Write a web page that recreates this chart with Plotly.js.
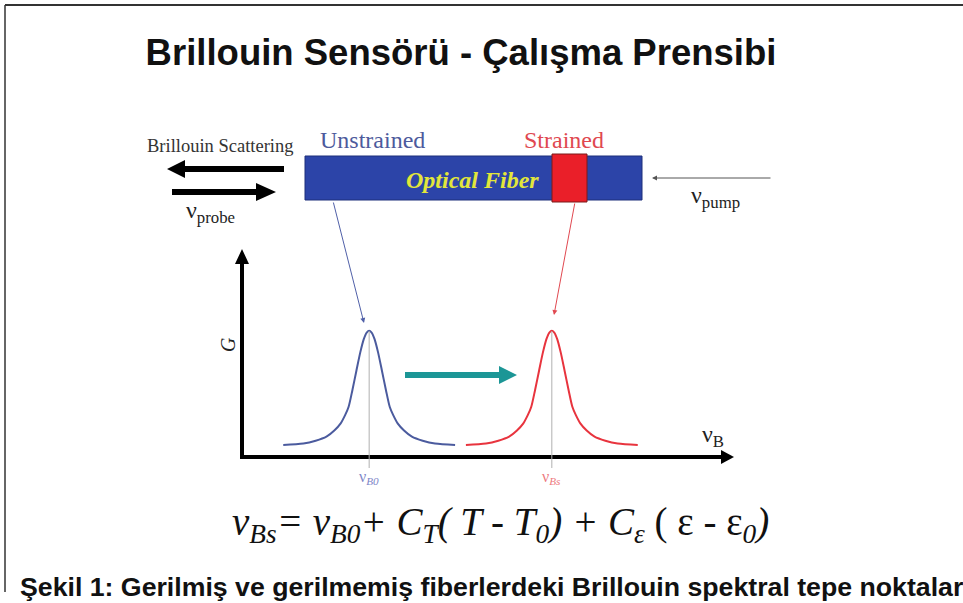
<!DOCTYPE html>
<html>
<head>
<meta charset="utf-8">
<script src="https://cdn.plot.ly/plotly-3.0.1.min.js"></script>
<style>
html,body{margin:0;padding:0;background:#fff;}
#chart{width:963px;height:603px;}
</style>
</head>
<body>
<div id="chart"></div>
<script>
// Spectral data (νB in arbitrary units 0..100, G in arbitrary units 0..1)
const nuB_unstrained = [8.4,12.5,15.0,17.2,18.8,20.1,21.0,21.7,22.5,23.3,24.1,24.8,25.4,25.9,26.4,27.0,27.7,28.5,29.3,30.1,30.8,31.7,33.0,34.6,36.8,39.3,43.4];
const G_unstrained   = [0.059,0.066,0.080,0.100,0.130,0.165,0.205,0.245,0.330,0.423,0.514,0.578,0.610,0.619,0.610,0.578,0.514,0.423,0.330,0.245,0.205,0.165,0.130,0.100,0.080,0.066,0.059];
const nuB_strained   = [45.6,49.7,52.2,54.4,56.0,57.3,58.2,58.9,59.7,60.5,61.3,62.0,62.6,63.1,63.6,64.2,64.9,65.7,66.5,67.3,68.0,68.9,70.2,71.8,74.0,76.5,80.6];
const G_strained     = [0.059,0.066,0.080,0.100,0.130,0.165,0.205,0.245,0.330,0.423,0.514,0.578,0.610,0.619,0.610,0.578,0.514,0.423,0.330,0.245,0.205,0.165,0.130,0.100,0.080,0.066,0.059];
const peakNu = [25.9, 63.1];           // νB0, νBs
const peakLabels = ['ν<sub><i>B0</i></sub>', 'ν<sub><i>Bs</i></sub>'];
const peakColors = ['#7d86c8', '#ee7a80'];

const titleText = '<b>Brillouin Sensörü - Çalışma Prensibi</b>';
const captionText = '<b>Şekil 1: Gerilmiş ve gerilmemiş fiberlerdeki Brillouin spektral tepe noktaları</b>';
const formulaText = '<i>ν<sub>Bs</sub>= ν<sub>B0</sub>+ C<sub>T</sub>( T - T<sub>0</sub>) + C<sub>ε</sub> </i>( ε - ε<sub><i>0</i></sub><i>)</i>';

const W = 963, H = 603;
// inner plot region in pixels
const px0 = 242, px1 = 733, pyBottom = 457, pyTop = 253;

const serif = 'Liberation Serif, Times New Roman, serif';
const sans = 'Liberation Sans, Arial, sans-serif';

const traces = [
  {x: nuB_unstrained, y: G_unstrained, xaxis: 'x2', yaxis: 'y2', mode: 'lines',
   line: {color: '#4b5b9e', width: 2, shape: 'spline', smoothing: 0.8}, hoverinfo: 'skip'},
  {x: nuB_strained, y: G_strained, xaxis: 'x2', yaxis: 'y2', mode: 'lines',
   line: {color: '#e8343e', width: 2, shape: 'spline', smoothing: 0.8}, hoverinfo: 'skip'}
];

function poly(pts){ return 'M' + pts.map(p => p[0] + ',' + p[1]).join(' L') + ' Z'; }

const shapes = [
  // page border
  {type: 'line', xref: 'x', yref: 'y', x0: 5, y0: 5, x1: 963, y1: 5, line: {color: '#333', width: 2}},
  {type: 'line', xref: 'x', yref: 'y', x0: 5, y0: 5, x1: 5, y1: 592, line: {color: '#333', width: 1.5}},
  // fiber
  {type: 'rect', xref: 'x', yref: 'y', x0: 305, y0: 156, x1: 642, y1: 200, fillcolor: '#2c44a8', line: {color: '#1d2f7a', width: 1}},
  {type: 'rect', xref: 'x', yref: 'y', x0: 552, y0: 154, x1: 587, y1: 202, fillcolor: '#ea1f29', line: {color: '#7a1a1a', width: 1}},
  // Brillouin scattering arrow (left)
  {type: 'path', xref: 'x', yref: 'y', path: poly([[284,166],[185,166],[185,160],[167,169],[185,178],[185,172],[284,172]]), fillcolor: '#000', line: {width: 0}},
  // probe arrow (right)
  {type: 'path', xref: 'x', yref: 'y', path: poly([[172,189],[256,189],[256,183],[276,192],[256,201],[256,195],[172,195]]), fillcolor: '#000', line: {width: 0}},
  // inner axes
  {type: 'line', xref: 'x', yref: 'y', x0: 240, y0: 457, x1: 723, y1: 457, line: {color: '#000', width: 4}},
  {type: 'path', xref: 'x', yref: 'y', path: poly([[721,450],[734,457],[721,464]]), fillcolor: '#000', line: {width: 0}},
  {type: 'line', xref: 'x', yref: 'y', x0: 242, y0: 459, x1: 242, y1: 262, line: {color: '#000', width: 4}},
  {type: 'path', xref: 'x', yref: 'y', path: poly([[235,264],[242,249],[249,264]]), fillcolor: '#000', line: {width: 0}},
  // teal shift arrow
  {type: 'path', xref: 'x', yref: 'y', path: poly([[405,372],[499,372],[499,366],[517,375],[499,384],[499,378],[405,378]]), fillcolor: '#1c9696', line: {width: 0}},
];
// peak lines
peakNu.forEach(function(v){
  shapes.push({type: 'line', xref: 'x2', yref: 'y', x0: v, x1: v, y0: 331, y1: 468, line: {color: '#b0b0b0', width: 1}});
});

const ann = [];
function txt(x, y, text, size, color, family, extra){
  const a = Object.assign({x: x, y: y, xref: 'x', yref: 'y', text: text, showarrow: false,
    font: {size: size, color: color, family: family}, xanchor: 'center', yanchor: 'middle'}, extra || {});
  ann.push(a);
}
txt(220, 146, 'Brillouin Scattering', 18.5, '#333', serif);
txt(372, 140, 'Unstrained', 24, '#4d5a9c', serif);
txt(564, 140, 'Strained', 24, '#e04850', serif);
txt(472, 180, '<b><i>Optical Fiber</i></b>', 24, '#e2e63a', serif);
txt(210, 212, 'ν<sub>probe</sub>', 24, '#222', serif);
txt(715, 197, 'ν<sub>pump</sub>', 24, '#222', serif);
txt(228, 345, '<i>G</i>', 20, '#222', serif, {textangle: -90});
txt(713, 436, 'ν<sub>B</sub>', 24, '#222', serif);
peakNu.forEach(function(v, i){
  ann.push({x: v, y: 477, xref: 'x2', yref: 'y', text: peakLabels[i], showarrow: false,
    font: {size: 16, color: peakColors[i], family: serif}, xanchor: 'center', yanchor: 'middle'});
});
txt(500, 524, formulaText, 39, '#111', serif);
txt(18, 587, captionText, 26.7, '#111', sans, {xanchor: 'left'});

// thin arrows
ann.push({x: 364, y: 323, ax: 333, ay: 201, xref: 'x', yref: 'y', axref: 'x', ayref: 'y', showarrow: true,
  arrowhead: 2, arrowsize: 1, arrowwidth: 1, arrowcolor: '#5060a8', text: ''});
ann.push({x: 554, y: 315, ax: 575, ay: 202, xref: 'x', yref: 'y', axref: 'x', ayref: 'y', showarrow: true,
  arrowhead: 2, arrowsize: 1, arrowwidth: 1, arrowcolor: '#e04850', text: ''});
ann.push({x: 652, y: 178, ax: 772, ay: 178, xref: 'x', yref: 'y', axref: 'x', ayref: 'y', showarrow: true,
  arrowhead: 2, arrowsize: 1, arrowwidth: 1, arrowcolor: '#555', text: ''});

const layout = {
  width: W, height: H, autosize: false,
  margin: {l: 0, r: 0, t: 0, b: 0, pad: 0},
  paper_bgcolor: '#fff', plot_bgcolor: 'rgba(0,0,0,0)',
  showlegend: false,
  title: {text: titleText, x: 461 / W, xanchor: 'center', y: 1 - 52 / H, yanchor: 'middle',
          font: {size: 36.5, color: '#111', family: sans}},
  xaxis: {range: [0, W], domain: [0, 1], visible: false, fixedrange: true},
  yaxis: {range: [H, 0], domain: [0, 1], visible: false, fixedrange: true},
  xaxis2: {range: [0, 100], domain: [px0 / W, px1 / W], anchor: 'y2', visible: false, fixedrange: true},
  yaxis2: {range: [0, 1], domain: [(H - pyBottom) / H, (H - pyTop) / H], anchor: 'x2', visible: false, fixedrange: true},
  shapes: shapes,
  annotations: ann
};

Plotly.newPlot('chart', traces, layout, {displayModeBar: false, staticPlot: true});
</script>
</body>
</html>
